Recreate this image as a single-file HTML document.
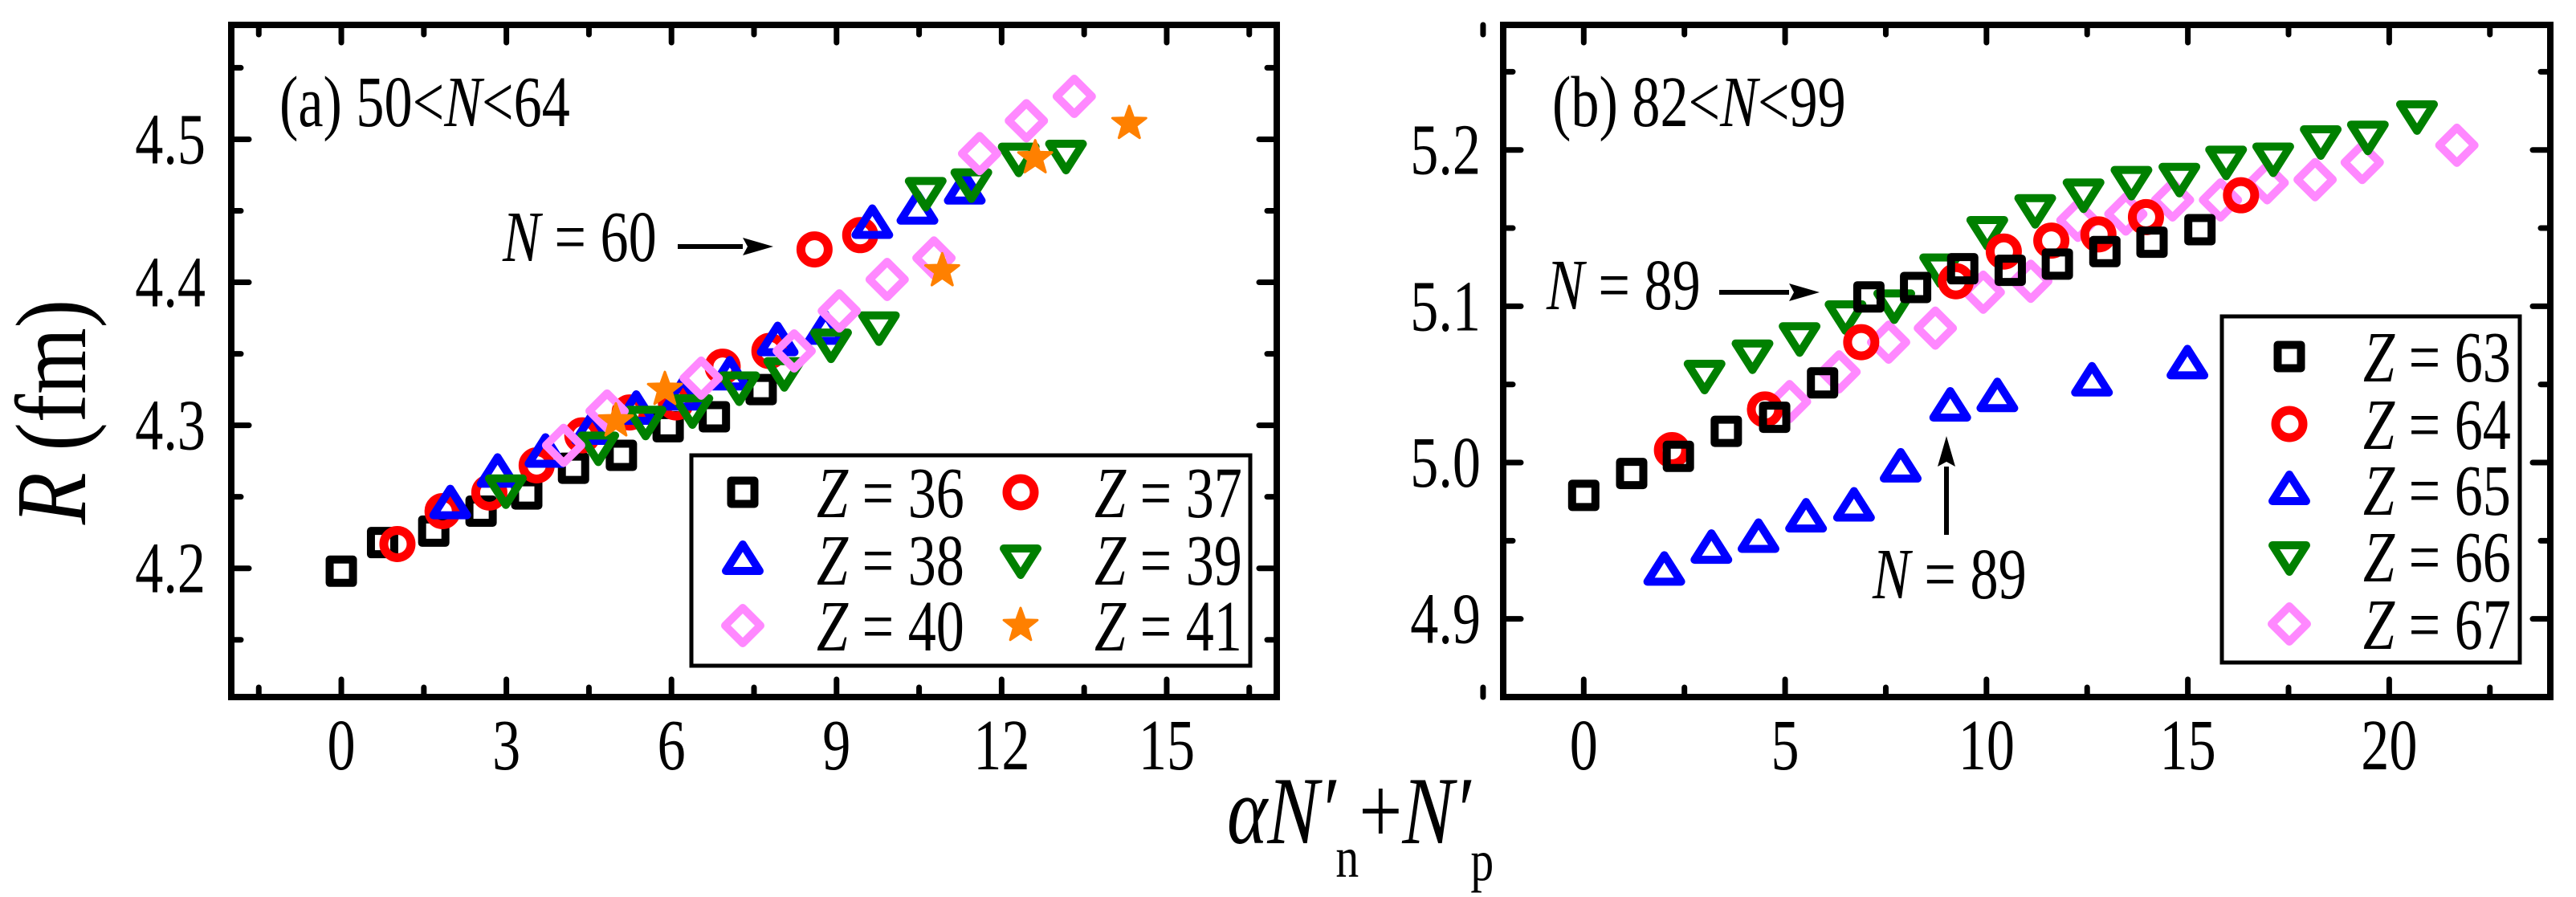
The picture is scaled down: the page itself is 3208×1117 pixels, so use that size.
<!DOCTYPE html>
<html><head><meta charset="utf-8"><style>
html,body{margin:0;padding:0;background:#fff;}
svg{display:block;}
svg text{font-family:"Liberation Serif","Times New Roman",serif;fill:#000;}
</style></head><body>
<svg id="chart" width="3208" height="1117" viewBox="0 0 3208 1117" xmlns="http://www.w3.org/2000/svg" font-family="Liberation Serif, serif">
<g id="root"></g>
</svg>
<script>
// Panel (a) data
const aX36=[0,0.75,1.68,2.54,3.37,4.22,5.09,5.94,6.78,7.63];
const aY36=[4.198,4.218,4.226,4.240,4.252,4.270,4.279,4.299,4.306,4.325];
const aX37=[1.02,1.84,2.69,3.55,4.38,5.24,6.08,6.93,7.78,8.6,9.43];
const aY37=[4.217,4.240,4.253,4.272,4.293,4.309,4.316,4.341,4.352,4.423,4.433];
const aX38=[1.98,2.84,3.71,4.56,5.36,6.21,7.06,7.93,8.8,9.65,10.47,11.33];
const aY38=[4.245,4.267,4.281,4.297,4.311,4.321,4.335,4.359,4.367,4.441,4.451,4.465];
const aX39=[2.99,4.67,5.53,6.38,7.23,8.05,8.9,9.77,10.62,11.45,12.31,13.17];
const aY39=[4.255,4.285,4.303,4.311,4.327,4.337,4.357,4.369,4.463,4.469,4.487,4.489];
const aX40=[4.04,4.83,6.54,8.23,9.05,9.92,10.77,11.6,12.45,13.32];
const aY40=[4.286,4.310,4.333,4.352,4.380,4.402,4.417,4.490,4.513,4.530];
const aX41=[4.99,5.88,10.92,12.61,14.32];
const aY41=[4.303,4.325,4.408,4.487,4.511];
// Panel (b) data
const bX63=[0,1.19,2.35,3.54,4.74,5.93,7.08,8.24,9.41,10.59,11.76,12.94,14.11,15.3];
const bY63=[4.979,4.993,5.004,5.020,5.029,5.051,5.106,5.112,5.124,5.123,5.127,5.135,5.141,5.149];
const bX64=[2.19,4.5,6.89,9.24,10.43,11.61,12.78,13.96,16.32];
const bY64=[5.008,5.034,5.077,5.116,5.135,5.142,5.146,5.157,5.171];
const bX65=[2.0,3.17,4.34,5.52,6.71,7.87,9.1,10.27,12.62,14.99];
const bY65=[4.931,4.945,4.952,4.965,4.972,4.997,5.036,5.042,5.052,5.063];
const bX66=[3.0,4.19,5.36,6.5,7.71,8.85,10.02,11.21,12.41,13.6,14.79,15.95,17.12,18.3,19.47,20.69];
const bY66=[5.056,5.069,5.080,5.094,5.101,5.124,5.148,5.162,5.172,5.180,5.182,5.193,5.195,5.206,5.209,5.222];
const bX67=[5.11,6.34,7.57,8.73,9.92,11.1,12.27,13.46,14.62,15.81,16.97,18.16,19.33,21.68];
const bY67=[5.039,5.058,5.077,5.086,5.109,5.116,5.155,5.159,5.168,5.168,5.179,5.181,5.192,5.203];
// tick labels
const aXTicks=[0,3,6,9,12,15];
const aYTicks=[4.2,4.3,4.4,4.5];
const bXTicks=[0,5,10,15,20];
const bYTicks=[4.9,5.0,5.1,5.2];
const aLegend=["Z = 36","Z = 37","Z = 38","Z = 39","Z = 40","Z = 41"];
const bLegend=["Z = 63","Z = 64","Z = 65","Z = 66","Z = 67"];

const NS="http://www.w3.org/2000/svg";
const root=document.getElementById('root');
const SX=0.78;
const FS=90;
function mk(tag,attrs,parent){const e=document.createElementNS(NS,tag);for(const k in attrs)e.setAttribute(k,attrs[k]);(parent||root).appendChild(e);return e;}
function txt(s,x,y,size,anchor,parent,italicParts){
  const t=mk('text',{x:0,y:0,'font-size':size,'text-anchor':anchor||'start','font-family':'Liberation Serif, serif',transform:`translate(${x},${y}) scale(${SX},1)`},parent);
  if(italicParts){italicParts.forEach(p=>{const sp=document.createElementNS(NS,'tspan');if(p[1])sp.setAttribute('font-style','italic');sp.textContent=p[0];t.appendChild(sp);});}
  else t.textContent=s;
  return t;
}
const COLORS={sq:'#000',ci:'#ff0000',tu:'#0000ff',td:'#008000',di:'#ff88ff',st:'#ff8000'};
function marker(type,cx,cy,g){
  let e;
  const sw=10;
  if(type==='sq'){e=mk('rect',{x:cx-14.5,y:cy-14.5,width:29,height:29,fill:'none',stroke:COLORS.sq,'stroke-width':sw,'stroke-linejoin':'round'},g);}
  else if(type==='ci'){e=mk('circle',{cx:cx,cy:cy,r:17,fill:'none',stroke:COLORS.ci,'stroke-width':11},g);}
  else if(type==='tu'){e=mk('path',{d:`M${cx},${cy-19}L${cx+21},${cy+14}L${cx-21},${cy+14}Z`,fill:'none',stroke:COLORS.tu,'stroke-width':sw,'stroke-linejoin':'round'},g);}
  else if(type==='td'){e=mk('path',{d:`M${cx},${cy+19}L${cx+21},${cy-14}L${cx-21},${cy-14}Z`,fill:'none',stroke:COLORS.td,'stroke-width':sw,'stroke-linejoin':'round'},g);}
  else if(type==='di'){e=mk('path',{d:`M${cx},${cy-22}L${cx+22},${cy}L${cx},${cy+22}L${cx-22},${cy}Z`,fill:'none',stroke:COLORS.di,'stroke-width':sw,'stroke-linejoin':'round'},g);}
  else {let d='';for(let i=0;i<10;i++){const r=i%2?9:22;const a=-Math.PI/2+i*Math.PI/5;d+=(i?'L':'M')+(cx+r*Math.cos(a)).toFixed(1)+','+(cy+r*Math.sin(a)).toFixed(1);}
    e=mk('path',{d:d+'Z',fill:COLORS.st,stroke:COLORS.st,'stroke-width':3,'stroke-linejoin':'round'},g);}
  return e;
}
function panel(cfg){
  const g=mk('g',{});
  
  
  const {L,R,T,B,x0,x1,y0,y1}=cfg;
  const sx=v=>L+(v-x0)/(x1-x0)*(R-L);
  const sy=v=>B-(v-y0)/(y1-y0)*(B-T);
  const tg=mk('g',{stroke:'#000','stroke-width':7,'stroke-linecap':'round'},g);
  
  
  for(let v=cfg.xMinorStart;v<=x1+1e-9;v+=cfg.xMinor){
    const major=Math.abs(Math.round(v/cfg.xMajor)*cfg.xMajor-v)<1e-6;
    const len=major?22:12;const X=sx(v);
    mk('line',{x1:X,y1:B,x2:X,y2:B-len},tg);mk('line',{x1:X,y1:T,x2:X,y2:T+len},tg);
  }
  for(let v=cfg.yMinorStart;v<=y1+1e-9;v+=cfg.yMinor){
    const major=Math.abs(Math.round(v/cfg.yMajor)*cfg.yMajor-v)<1e-6;
    const len=major?22:12;const Y=sy(v);
    mk('line',{x1:L,y1:Y,x2:L+len,y2:Y},tg);mk('line',{x1:R,y1:Y,x2:R-len,y2:Y},tg);
  }
  cfg.xTicks.forEach(v=>{const t=txt(String(v),sx(v),958,FS,'middle',g);
    
    });
  cfg.yTicks.forEach(v=>{const t=txt(v.toFixed(1),cfg.yLabX,sy(v)+30,FS,'end',g);
    
    });
  cfg.series.forEach(s=>{
    const sg=mk('g',{},g);
    
    
    s.xs.forEach((xv,i)=>{const m=marker(s.type,sx(xv),sy(s.ys[i]),sg);
      
      });
  });
  const fr=mk('rect',{x:L,y:T,width:R-L,height:B-T,fill:'none',stroke:'#000','stroke-width':8},g);
  
  
  return g;
}
panel({name:'panel-a',L:288,R:1590,T:31,B:868,x0:-2,x1:17,y0:4.11,y1:4.58,
  xMinor:1.5,xMajor:3,xMinorStart:-1.5,yMinor:0.05,yMajor:0.1,yMinorStart:4.15,
  xTicks:aXTicks,yTicks:aYTicks,yLabX:256,
  series:[
   {name:'series-z36',type:'sq',xs:aX36,ys:aY36},
   {name:'series-z37',type:'ci',xs:aX37,ys:aY37},
   {name:'series-z38',type:'tu',xs:aX38,ys:aY38},
   {name:'series-z39',type:'td',xs:aX39,ys:aY39},
   {name:'series-z40',type:'di',xs:aX40,ys:aY40},
   {name:'series-z41',type:'st',xs:aX41,ys:aY41}]});
panel({name:'panel-b',L:1872,R:3176,T:31,B:868,x0:-2,x1:24,y0:4.85,y1:5.28,
  xMinor:2.5,xMajor:5,xMinorStart:-2.5,yMinor:0.05,yMajor:0.1,yMinorStart:4.85,
  xTicks:bXTicks,yTicks:bYTicks,yLabX:1844,
  series:[
   {name:'series-z67',type:'di',xs:bX67,ys:bY67},
   {name:'series-z66',type:'td',xs:bX66,ys:bY66},
   {name:'series-z65',type:'tu',xs:bX65,ys:bY65},
   {name:'series-z64',type:'ci',xs:bX64,ys:bY64},
   {name:'series-z63',type:'sq',xs:bX63,ys:bY63}]});

function legend(name,x,y,w,h,entries,types,cols){
  const g=mk('g',{});
  
  
  mk('rect',{x:x,y:y,width:w,height:h,fill:'#fff',stroke:'#000','stroke-width':5},g);
  entries.forEach((lab,i)=>{
    const c=cols[i];
    const eg=mk('g',{},g);
    
    
    marker(types[i],c[0],c[1],eg);
    const parts=lab.split(' ');
    txt(null,c[2],c[1]+31,FS,'start',eg,[[parts[0],true],[' = '+parts[2],false]]);
  });
}
legend('legend-a',861,567,696,262,aLegend,['sq','ci','tu','td','di','st'],
  [[925,613,1017],[1271,613,1363],[925,697,1017],[1271,697,1363],[925,779,1017],[1271,779,1363]]);
legend('legend-b',2767,394,371,431,bLegend,['sq','ci','tu','td','di'],
  [[2851,444,2943],[2851,528,2943],[2851,610,2943],[2851,693,2943],[2851,777,2943]]);

let t;
t=txt(null,348,157,FS,'start',root,[['(a) 50<',false],['N',true],['<64',false]]);


t=txt(null,1933,157,FS,'start',root,[['(b) 82<',false],['N',true],['<99',false]]);


function arrow(name,x1,y1,x2,y2){
  const g=mk('g',{});
  
  
  const dx=x2-x1,dy=y2-y1,len=Math.hypot(dx,dy),ux=dx/len,uy=dy/len;
  const bx=x2-ux*38,by=y2-uy*38;
  mk('line',{x1:x1,y1:y1,x2:bx,y2:by,stroke:'#000','stroke-width':6},g);
  mk('path',{d:`M${x2},${y2}L${bx-uy*11},${by+ux*11}L${bx+ux*6},${by+uy*6}L${bx+uy*11},${by-ux*11}Z`,fill:'#000'},g);
}
t=txt(null,626,325,FS,'start',root,[['N',true],[' = 60',false]]);


arrow('arrow-n60',844,307,963,307);
t=txt(null,1926,385,FS,'start',root,[['N',true],[' = 89',false]]);


arrow('arrow-n89-upper',2141,364,2266,364);
t=txt(null,2332,745,FS,'start',root,[['N',true],[' = 89',false]]);


arrow('arrow-n89-lower',2424,666,2424,543);

const yt=mk('text',{x:0,y:0,'font-size':125,'text-anchor':'middle','font-family':'Liberation Serif, serif',transform:'translate(106,513) rotate(-90) scale(0.85,1)'});


yt.innerHTML='<tspan font-style="italic">R</tspan> (fm)';
const xt=mk('text',{x:0,y:0,'font-size':120,'font-family':'Liberation Serif, serif',transform:'translate(1528,1050) scale(0.8,1)'});


xt.innerHTML='<tspan font-style="italic">αN′</tspan><tspan font-size="72" dy="42">n</tspan><tspan dy="-42">+</tspan><tspan font-style="italic">N′</tspan><tspan font-size="72" dy="46">p</tspan>';
</script>
</body></html>
